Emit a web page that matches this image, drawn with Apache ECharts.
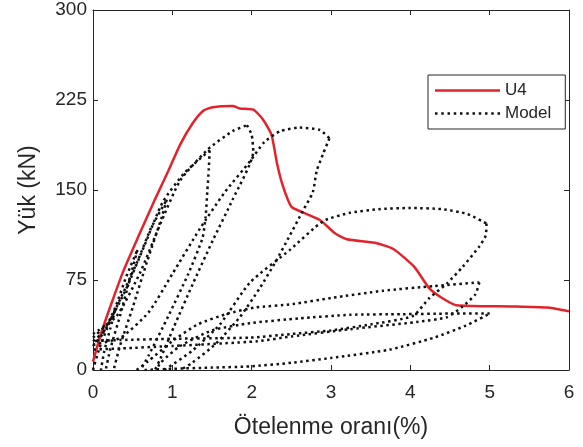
<!DOCTYPE html>
<html>
<head>
<meta charset="utf-8">
<script src="https://cdn.jsdelivr.net/npm/echarts@6/dist/echarts.min.js"></script>
<style>
  html, body { margin: 0; padding: 0; background: #fff; }
  #chart { width: 583px; height: 447px; }
</style>
</head>
<body>
<div id="chart"></div>
<script>
// deney eğrisi (U4) : [ötelenme %, yük kN]
const u4Curve = [
  [0, 7], [0.1, 30], [0.23, 55], [0.38, 82], [0.57, 111], [0.78, 142], [0.95, 166],
  [1.1, 188], [1.25, 205], [1.39, 216], [1.51, 219], [1.76, 220], [1.85, 218],
  [2.02, 217], [2.14, 209], [2.25, 196], [2.32, 172], [2.39, 154], [2.5, 136],
  [2.62, 132], [2.86, 125], [3.05, 114], [3.2, 109], [3.55, 106], [3.78, 101],
  [4.05, 86], [4.24, 68], [4.4, 60], [4.58, 54], [5.3, 53], [5.72, 52], [6.0, 49]
];

// model çevrimleri, yükleme / boşaltma kolları
const c1Up = [[0, 0], [0.08, 18], [0.18, 35], [0.28, 50]];
const c1Down = [[0.28, 50], [0.22, 35], [0.14, 15], [0.1, 0]];
const c2Up = [[0, 20], [0.12, 30], [0.28, 52], [0.42, 78], [0.56, 100]];
const c2Down = [[0.56, 100], [0.48, 80], [0.34, 45], [0.22, 18], [0.16, 0]];
const c3Up = [[0, 24], [0.15, 33], [0.35, 60], [0.57, 92], [0.73, 118], [0.93, 142]];
const c3Down = [[0.93, 142], [0.86, 126], [0.68, 90], [0.5, 52], [0.34, 20], [0.26, 0]];
const c4Up = [[0, 27], [0.2, 40], [0.42, 68], [0.65, 104], [0.88, 140], [1.15, 164], [1.47, 183]];
const c4Down = [[1.47, 183], [1.46, 168], [1.44, 148], [1.42, 128], [1.38, 110], [1.2, 80], [0.95, 45], [0.7, 12], [0.6, 0]];
const c5Up = [[0, 30], [0.3, 45], [0.6, 82], [0.85, 122], [1.1, 158], [1.45, 184], [1.76, 199], [1.94, 204]];
const c5Down = [[1.94, 204], [2.0, 196], [2.02, 182], [1.76, 142], [1.51, 108], [1.26, 72], [1.02, 36], [0.84, 8], [0.78, 0]];
const c6Up = [[0, 21], [0.35, 27], [0.7, 48], [1.0, 80], [1.35, 118], [1.66, 148], [1.98, 174], [2.16, 190],
  [2.36, 199], [2.6, 202], [2.86, 200], [2.98, 193]];
const c6Down = [[2.98, 193], [2.9, 180], [2.82, 166], [2.77, 148], [2.64, 132], [2.48, 112], [2.3, 90],
  [2.1, 68], [1.85, 44], [1.55, 22], [1.25, 6], [1.1, 0]];
const c7Up = [[0.9, 0], [1.25, 16], [1.6, 38], [1.98, 73], [2.48, 100], [2.9, 124], [3.24, 131], [3.6, 134],
  [4.0, 135], [4.4, 134], [4.72, 130], [4.96, 122]];
const c7Down = [[4.96, 122], [4.95, 112], [4.87, 103], [4.66, 86], [4.46, 72], [4.24, 60], [4.03, 45],
  [3.5, 38], [3.0, 33], [2.5, 30], [1.98, 27], [1.0, 26], [0.35, 25], [0, 24]];
const c8Up = [[0.55, 0], [0.69, 7], [1.0, 24], [1.32, 38], [1.7, 47], [2.04, 52], [2.52, 55], [3.0, 60],
  [3.65, 66], [4.3, 70], [4.87, 73]];
const c8Down = [[4.87, 73], [4.82, 63], [4.66, 53], [4.46, 44], [4.08, 40], [3.24, 34], [2.5, 28],
  [2.08, 24], [1.0, 20], [0.35, 18], [0, 17]];
const c9Up = [[0.65, 0], [1.0, 1], [1.5, 2], [1.98, 3], [2.5, 6], [3.0, 10], [3.74, 17], [4.3, 27], [4.7, 37], [5.0, 47]];
const c9Down = [[5.0, 47], [4.5, 47], [3.9, 46.5], [3.24, 46], [2.6, 43], [1.98, 39], [1.5, 33], [1.1, 20], [0.85, 6], [0.8, 0]];

const modelBranches = [c1Up, c1Down, c2Up, c2Down, c3Up, c3Down, c4Up, c4Down, c5Up, c5Down,
  c6Up, c6Down, c7Up, c7Down, c8Up, c8Down, c9Up, c9Down];

const axisColor = '#262626';
const redColor = '#e3232b';
const modelColor = '#111';
const fontFamily = '"Liberation Sans", Arial, sans-serif';

// lejant simgeleri: düz çizgi ve noktalı çizgi
const solidIcon = 'path://M0,0h65v2.5h-65z';
let dottedIcon = 'path://';
for (let i = 0; i < 11; i++) {
  dottedIcon += `M${i * 6.25},0h2.5v2.5h-2.5z `;
}

const chart = echarts.init(document.getElementById('chart'), null, { renderer: 'canvas' });

const series = [{
  name: 'U4',
  type: 'line',
  data: u4Curve,
  showSymbol: false,
  symbol: 'none',
  smooth: 0.2,
  lineStyle: { color: redColor, width: 2.5 },
  itemStyle: { color: redColor },
  z: 2
}];
modelBranches.forEach((branch) => {
  series.push({
    name: 'Model',
    type: 'line',
    data: branch,
    showSymbol: false,
    symbol: 'none',
    smooth: 0.2,
    lineStyle: { color: modelColor, width: 2.5, type: [2.5, 3.5] },
    itemStyle: { color: modelColor },
    z: 3
  });
});

const boxAxis = {
  axisLine: { show: true, onZero: false, lineStyle: { color: axisColor, width: 1 } },
  axisTick: { show: true, inside: true, length: 5, lineStyle: { color: axisColor } },
  axisLabel: { show: false },
  splitLine: { show: false }
};

chart.setOption({
  animation: false,
  backgroundColor: '#fff',
  textStyle: { fontFamily },
  grid: { left: 93, right: 14, top: 10, bottom: 77 },
  legend: {
    data: [{ name: 'U4', icon: solidIcon }, { name: 'Model', icon: dottedIcon }],
    orient: 'vertical',
    left: 428,
    top: 75,
    padding: [7, 14, 7, 7],
    itemWidth: 65,
    itemHeight: 14,
    itemGap: 6,
    borderColor: axisColor,
    borderWidth: 1,
    backgroundColor: '#fff',
    textStyle: { fontSize: 17, color: axisColor, fontFamily }
  },
  xAxis: [{
    type: 'value',
    min: 0,
    max: 6,
    interval: 1,
    name: 'Ötelenme oranı(%)',
    nameLocation: 'middle',
    nameGap: 46,
    nameTextStyle: { fontSize: 23, color: axisColor, fontFamily },
    axisLine: { show: true, onZero: false, lineStyle: { color: axisColor, width: 1 } },
    axisTick: { show: true, inside: true, length: 5, lineStyle: { color: axisColor } },
    axisLabel: { fontSize: 19, color: axisColor, margin: 13, fontFamily },
    splitLine: { show: false }
  }, Object.assign({
    type: 'value', position: 'top', min: 0, max: 6, interval: 1
  }, boxAxis)],
  yAxis: [{
    type: 'value',
    min: 0,
    max: 300,
    interval: 75,
    name: 'Yük (kN)',
    nameLocation: 'middle',
    nameGap: 53,
    nameTextStyle: { fontSize: 23, color: axisColor, fontFamily },
    axisLine: { show: true, onZero: false, lineStyle: { color: axisColor, width: 1 } },
    axisTick: { show: true, inside: true, length: 5, lineStyle: { color: axisColor } },
    axisLabel: { fontSize: 19, color: axisColor, margin: 6, fontFamily },
    splitLine: { show: false }
  }, Object.assign({
    type: 'value', position: 'right', min: 0, max: 300, interval: 75
  }, boxAxis)],
  series
});
</script>
</body>
</html>
